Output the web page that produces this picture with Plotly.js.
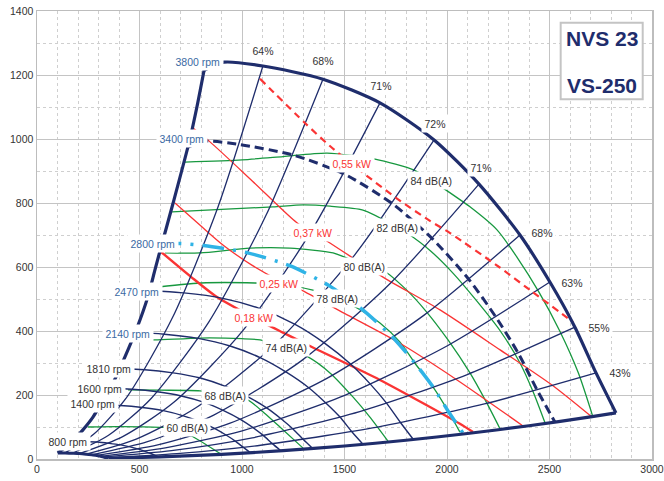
<!DOCTYPE html>
<html>
<head>
<meta charset="utf-8">
<script src="https://cdn.plot.ly/plotly-3.0.1.min.js"></script>
<style>html,body{margin:0;padding:0;background:#fff}#chart{width:664px;height:481px}</style>
</head>
<body>
<div id="chart"></div>
<script>
// ---------- DATA (flow Q in m3/h, pressure p in Pa) ----------
// Speed curves
const q3800 = [815,912,1102,1395,1673,1937,2156,2356,2502,2624,2727,2824];
const p3800 = [1215,1240,1228,1187,1113,997,859,700,553,412,269,144];
const q3400 = [729,816,986,1248,1497,1733,1929,2108,2239,2348,2440,2527];
const p3400 = [973,993,983,950,891,798,688,560,443,330,215,115];
const q2800 = [600,672,812,1028,1233,1427,1589,1736,1843,1933,2009,2081];
const p2800 = [660,673,667,644,604,541,466,380,300,224,146,78];
const q2470 = [530,593,716,907,1087,1259,1401,1531,1626,1706,1773,1836];
const p2470 = [513,524,519,502,470,421,363,296,234,174,114,61];
const q2140 = [459,514,621,786,942,1091,1214,1327,1409,1478,1536,1590];
const p2140 = [385,393,390,377,353,316,272,222,175,131,85,46];
const q1810 = [388,434,525,664,797,923,1027,1122,1192,1250,1299,1345];
const p1810 = [276,281,279,269,253,226,195,159,125,93,61,33];
const q1600 = [343,384,464,587,704,816,908,992,1054,1105,1148,1189];
const p1600 = [215,220,218,210,197,177,152,124,98,73,48,26];
const q1400 = [300,336,406,514,616,714,794,868,922,967,1005,1040];
const p1400 = [165,168,167,161,151,135,117,95,75,56,37,20];
const q800  = [172,192,232,294,352,408,454,496,527,552,574,594];
const p800  = [54,55,54,53,49,44,38,31,24,18,12,6];
const qMin  = [101,113,137,173,207,240,267,292,310,325,338,350];
const pMin  = [19,19,19,18,17,15,13,11,8.5,6.3,4.1,2.2];
const speedLabels = ['3800 rpm','3400 rpm','2800 rpm','2470 rpm','2140 rpm','1810 rpm','1600 rpm','1400 rpm','800 rpm'];

// Envelope: stall line (left) and max-flow line (bottom)
const qStall = [101,172,224,273,320,366,429,488,540,575,600,664,746,780,815];
const pStall = [19,54,91,131,180,231,319,410,505,590,650,800,1000,1100,1215];
const qMaxFlow = [350,600,900,1200,1500,1800,2100,2400,2700,2824];
const pMaxFlow = [2.2,6.5,14.6,26,40.6,58.5,79.6,104,131.6,144];

// Efficiency lines
const effLabels = ['64%','68%','71%','72%','71%','68%','63%','55%','43%'];
const qEff64 = [1102,882,661,441,276,137],  pEff64 = [1228,786,442,196,77,19];
const qEff68 = [1395,1116,837,558,349,173], pEff68 = [1187,760,427,190,74,18];
const qEff71 = [1673,1338,1004,669,418,207], pEff71 = [1113,712,401,178,70,17];
const qEff72 = [1937,1550,1162,775,484,240], pEff72 = [997,638,359,160,62,15];
const qEff71b = [2156,1725,1294,862,539,267], pEff71b = [859,550,309,137,54,13];
const qEff68b = [2356,1885,1414,942,589,292], pEff68b = [700,448,252,112,44,11];
const qEff63 = [2502,2002,1501,1001,626,310], pEff63 = [553,354,199,88,35,8.5];
const qEff55 = [2624,2099,1574,1050,656,325], pEff55 = [412,264,148,66,26,6.3];
const qEff43 = [2727,2182,1636,1091,682,338], pEff43 = [269,172,97,43,17,4.1];

// Sound power lines
const soundLabels = ['84 dB(A)','82 dB(A)','80 dB(A)','78 dB(A)','74 dB(A)','68 dB(A)','60 dB(A)'];
const qDb84 = [722,1000,1200,1415,1649,1839,1922,1980,2112,2244,2341,2450,2550,2640,2712];
const pDb84 = [928,935,945,956,937,903,872,847,788,716,631,520,400,270,131];
const qDb82 = [659,900,1151,1298,1429,1590,1756,1805,1920,2029,2150,2260,2356,2420,2478];
const pDb82 = [772,780,788,794,790,778,725,706,650,581,490,400,300,210,113];
const qDb80 = [624,795,1039,1234,1444,1512,1595,1688,1800,1900,2005,2112,2190,2259];
const pDb80 = [644,644,659,659,644,628,610,590,530,460,372,269,180,94];
const qDb78 = [545,800,1063,1200,1346,1463,1561,1673,1771,1843,1933,2009,2063];
const pDb78 = [534,550,550,545,528,503,472,425,365,300,224,146,84];
const qDb74 = [470,576,795,1000,1088,1215,1322,1429,1541,1624,1712];
const pDb74 = [372,372,378,376,372,347,319,269,194,131,56];
const qDb68 = [444,600,795,917,1029,1110,1185,1298];
const pDb68 = [216,215,213,200,184,143,100,34];
const qDb60 = [249,400,600,680,746,820,893];
const pDb60 = [100,101,99,95,75,47,17];

// Power lines
const powerLabels = ['0,55 kW','0,37 kW','0,25 kW','0,18 kW'];
const qKw055 = [1088,1307,1429,1585,1756,1917,2015,2254,2405,2615];
const pKw055 = [1188,1050,978,897,814,744,706,600,528,428];
const qKw037 = [761,844,1050,1268,1346,1429,1527,1712,1966,2259,2512,2707];
const pKw037 = [1034,991,869,738,709,675,634,559,466,341,231,131];
const qKw025 = [673,800,907,1050,1185,1283,1500,1756,2049,2371];
const pKw025 = [800,728,669,605,557,530,455,367,247,103];
const qKw018 = [600,750,878,1059,1200,1341,1673,2063,2127];
const pKw018 = [650,570,506,441,395,350,247,110,84];

const xTicks = [0,500,1000,1500,2000,2500,3000];
const yTicks = [0,200,400,600,800,1000,1200,1400];
const titleLines = ['NVS 23','VS-250'];

// ---------- STYLE ----------
const FONT = 'Arial, "Liberation Sans", sans-serif';
const NAVY = '#1f2d6c', RED = '#fa3434', GREEN = '#17983f', LBLUE = '#2fb3e6';
const BLUE_TXT = '#3b6aa3', GRAY_TXT = '#333333';

function tr(x, y, color, width, dash) {
  return {x: x, y: y, type: 'scatter', mode: 'lines', hoverinfo: 'skip', showlegend: false,
          line: {color: color, width: width, dash: dash || 'solid', shape: 'spline', smoothing: 0.7}};
}

const traces = [
  // sound
  tr(qDb84,pDb84,GREEN,1.3), tr(qDb82,pDb82,GREEN,1.3), tr(qDb80,pDb80,GREEN,1.3),
  tr(qDb78,pDb78,GREEN,1.3), tr(qDb74,pDb74,GREEN,1.3), tr(qDb68,pDb68,GREEN,1.3), tr(qDb60,pDb60,GREEN,1.3),
  // power
  tr(qKw037,pKw037,RED,1.3), tr(qKw025,pKw025,RED,1.3), tr(qKw018,pKw018,RED,2.4),
  // efficiency
  tr(qEff64,pEff64,NAVY,1.3), tr(qEff68,pEff68,NAVY,1.3), tr(qEff71,pEff71,NAVY,1.3),
  tr(qEff72,pEff72,NAVY,1.3), tr(qEff71b,pEff71b,NAVY,1.3), tr(qEff68b,pEff68b,NAVY,1.3),
  tr(qEff63,pEff63,NAVY,1.3), tr(qEff55,pEff55,NAVY,1.3), tr(qEff43,pEff43,NAVY,1.3),
  // speeds
  tr(q2470,p2470,NAVY,1.4), tr(q2140,p2140,NAVY,1.4), tr(q1810,p1810,NAVY,1.4),
  tr(q1600,p1600,NAVY,1.4), tr(q1400,p1400,NAVY,1.4), tr(q800,p800,NAVY,1.4),
  tr(q2800,p2800,LBLUE,3.5,'22px,9px,3px,9px'),
  tr(qKw055,pKw055,RED,2.2,'7px,5px'),
  tr(q3400,p3400,NAVY,3,'9px,5px'),
  // envelope
  tr(q3800,p3800,NAVY,3.2), tr(qStall,pStall,NAVY,3.2), tr(qMaxFlow,pMaxFlow,NAVY,3.2), tr(qMin,pMin,NAVY,3)
];

function lab(text, x, y, color) {
  return {text: text, x: x, y: y, xref: 'x', yref: 'y', showarrow: false,
          font: {family: FONT, size: 10.5, color: color}, bgcolor: '#ffffff', borderpad: 2.5,
          xanchor: 'center', yanchor: 'middle'};
}

const annotations = [
  lab(speedLabels[0],785,1241,BLUE_TXT), lab(speedLabels[1],707,1003,BLUE_TXT),
  lab(speedLabels[2],566,672,BLUE_TXT), lab(speedLabels[3],488,525,BLUE_TXT),
  lab(speedLabels[4],444,391,BLUE_TXT), lab(speedLabels[5],351,284,GRAY_TXT),
  lab(speedLabels[6],307,219,GRAY_TXT), lab(speedLabels[7],273,172,GRAY_TXT),
  lab(speedLabels[8],151,56,GRAY_TXT),
  lab(effLabels[0],1102,1278,GRAY_TXT), lab(effLabels[1],1395,1244,GRAY_TXT),
  lab(effLabels[2],1678,1166,GRAY_TXT), lab(effLabels[3],1941,1050,GRAY_TXT),
  lab(effLabels[4],2166,912,GRAY_TXT), lab(effLabels[5],2463,709,GRAY_TXT),
  lab(effLabels[6],2610,553,GRAY_TXT), lab(effLabels[7],2741,412,GRAY_TXT),
  lab(effLabels[8],2844,269,GRAY_TXT),
  lab(powerLabels[0],1537,925,RED), lab(powerLabels[1],1346,709,RED),
  lab(powerLabels[2],1180,550,RED), lab(powerLabels[3],1059,441,RED),
  lab(soundLabels[0],1922,869,GRAY_TXT), lab(soundLabels[1],1756,722,GRAY_TXT),
  lab(soundLabels[2],1595,603,GRAY_TXT), lab(soundLabels[3],1463,503,GRAY_TXT),
  lab(soundLabels[4],1215,347,GRAY_TXT), lab(soundLabels[5],917,197,GRAY_TXT),
  lab(soundLabels[6],732,97,GRAY_TXT),
  {text: titleLines[0], xref: 'paper', yref: 'paper', x: 0.9187, y: 0.9386, showarrow: false,
   xanchor: 'center', yanchor: 'middle', font: {family: FONT, size: 21, color: NAVY, weight: 'bold'}},
  {text: titleLines[1], xref: 'paper', yref: 'paper', x: 0.9187, y: 0.8337, showarrow: false,
   xanchor: 'center', yanchor: 'middle', font: {family: FONT, size: 21, color: NAVY, weight: 'bold'}}
];

const layout = {
  width: 664, height: 481,
  margin: {l: 37, r: 12, t: 11, b: 22, pad: 0},
  paper_bgcolor: '#ffffff', plot_bgcolor: '#ffffff',
  font: {family: FONT, size: 10.5, color: GRAY_TXT},
  showlegend: false,
  xaxis: {range: [0,3000], tickvals: xTicks, ticktext: xTicks.map(String), showgrid: true,
          gridcolor: '#c4c4c4', gridwidth: 1, zeroline: false, showline: true, mirror: true,
          linecolor: '#bdbdbd', linewidth: 1.5, ticks: '', tickfont: {family: FONT, size: 10.5, color: GRAY_TXT},
          minor: {dtick: 100, tick0: 0, showgrid: true, gridcolor: '#cfcfcf', griddash: 'dot', gridwidth: 1}},
  yaxis: {range: [0,1400], tickvals: yTicks, ticktext: yTicks.map(String), showgrid: true,
          gridcolor: '#c4c4c4', gridwidth: 1, zeroline: false, showline: true, mirror: true,
          linecolor: '#bdbdbd', linewidth: 1.5, ticks: '', tickfont: {family: FONT, size: 10.5, color: GRAY_TXT},
          minor: {dtick: 100, tick0: 0, showgrid: true, gridcolor: '#cfcfcf', griddash: 'dot', gridwidth: 1}},
  shapes: [{type: 'rect', xref: 'paper', yref: 'paper', x0: 0.8515, x1: 0.9849, y0: 0.803, y1: 0.974,
            fillcolor: '#ffffff', line: {color: '#c4c4c4', width: 2}, layer: 'above'}],
  annotations: annotations
};

Plotly.newPlot('chart', traces, layout, {staticPlot: true, displayModeBar: false});
</script>
</body>
</html>
